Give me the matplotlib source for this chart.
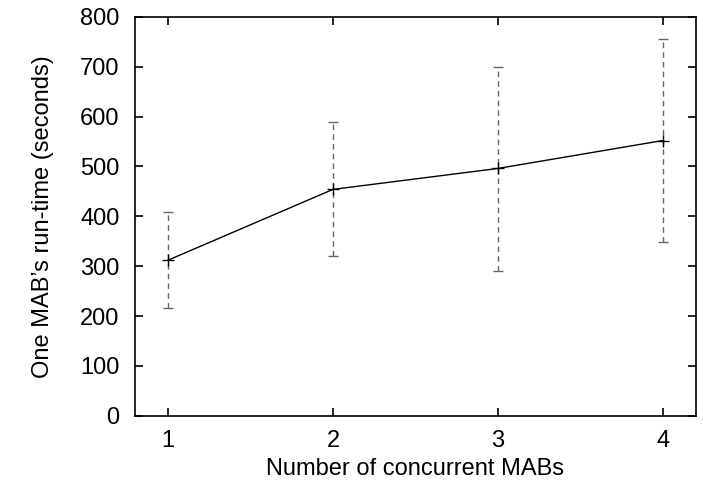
import numpy as np
import matplotlib.pyplot as plt

plt.rcParams['font.family'] = ['Liberation Sans', 'DejaVu Sans']

n_mabs = [1, 2, 3, 4]
runtime = [312, 454, 496, 552]
err_low = [216, 320, 291, 349]
err_high = [408, 589, 700, 756]

runtime = np.array(runtime)
yerr = [runtime - np.array(err_low), np.array(err_high) - runtime]

fig = plt.figure(figsize=(7.03, 4.95), dpi=100)
ax = fig.add_axes([0.192, 0.160, 0.798, 0.806])

eb = ax.errorbar(n_mabs, runtime, yerr=yerr, fmt='none', ecolor='#666666',
                 elinewidth=1.0, capsize=3.5, capthick=1.0)
eb[2][0].set_linestyle((0, (4, 3)))
ax.plot(n_mabs, runtime, color='black', lw=1.0, marker='+', ms=8, mew=1.0)

ax.set_xlim(0.8, 4.2)
ax.set_ylim(0, 800)
ax.set_xticks(n_mabs)
ax.set_yticks(range(0, 801, 100))
ax.tick_params(direction='in', top=True, right=True, length=6, width=1.2,
               labelsize=17)
ax.tick_params(axis='y', pad=11)
ax.tick_params(axis='x', pad=10)
for s in ax.spines.values():
    s.set_linewidth(1.2)

ax.set_xlabel('Number of concurrent MABs', fontsize=17, labelpad=4.5)
ax.set_ylabel('One MAB\u2019s run-time (seconds)', fontsize=17, labelpad=19)

fig.savefig('out.png', dpi=100)
